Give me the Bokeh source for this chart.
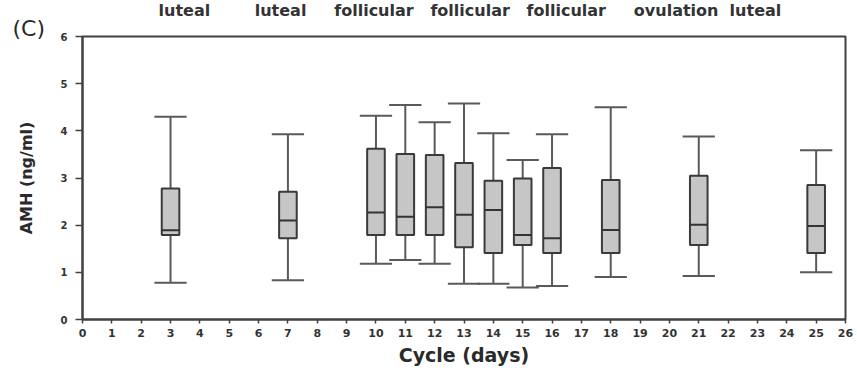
from bokeh.plotting import figure
from bokeh.models import Range1d, Title, ColumnDataSource, FixedTicker
from bokeh.embed import file_html
from bokeh.resources import INLINE

# ---- data ----
days = [3, 7, 10, 11, 12, 13, 14, 15, 16, 18, 21, 25]
whisk_hi = [4.30, 3.93, 4.32, 4.55, 4.18, 4.58, 3.95, 3.38, 3.93, 4.50, 3.88, 3.59]
q3 = [2.78, 2.71, 3.62, 3.51, 3.49, 3.32, 2.94, 2.99, 3.21, 2.96, 3.05, 2.85]
median = [1.89, 2.10, 2.27, 2.18, 2.38, 2.22, 2.32, 1.79, 1.72, 1.90, 2.01, 1.98]
q1 = [1.79, 1.72, 1.79, 1.79, 1.79, 1.53, 1.41, 1.58, 1.41, 1.41, 1.58, 1.41]
whisk_lo = [0.78, 0.83, 1.18, 1.26, 1.18, 0.76, 0.76, 0.68, 0.71, 0.90, 0.92, 1.00]

x_ticks = list(range(0, 27))
y_ticks = list(range(0, 7))

phase_words = ["luteal", "luteal", "follicular", "follicular", "follicular", "ovulation", "luteal"]
phase_gaps = [0, 8, 5, 3, 3, 5, 2]   # non-breaking spaces before each word

panel_label = "(C)"
x_title = "Cycle (days)"
y_title = "AMH (ng/ml)"

BOX_W = 0.6
CAP_W = 1.1
W, H = 857, 368

src = ColumnDataSource(dict(
    x=days, hi=whisk_hi, q3=q3, med=median, q1=q1, lo=whisk_lo,
    bl=[d - BOX_W / 2 for d in days], br=[d + BOX_W / 2 for d in days],
    cl=[d - CAP_W / 2 for d in days], cr=[d + CAP_W / 2 for d in days],
))

p = figure(width=W, height=H, output_backend="svg", toolbar_location=None,
           x_range=Range1d(0, 26), y_range=Range1d(0, 6),
           min_border_left=82, min_border_right=12, min_border_top=36, min_border_bottom=49)
p.background_fill_color = "white"
p.border_fill_color = "white"
p.outline_line_color = "#404040"
p.outline_line_width = 2
p.xgrid.visible = False
p.ygrid.visible = False

# whiskers
p.segment(x0="x", y0="q3", x1="x", y1="hi", source=src, line_color="#5a5a5a", line_width=2)
p.segment(x0="x", y0="lo", x1="x", y1="q1", source=src, line_color="#5a5a5a", line_width=2)
# caps
p.segment(x0="cl", y0="hi", x1="cr", y1="hi", source=src, line_color="#5a5a5a", line_width=2)
p.segment(x0="cl", y0="lo", x1="cr", y1="lo", source=src, line_color="#5a5a5a", line_width=2)
# boxes
p.vbar(x="x", width=BOX_W, bottom="q1", top="q3", source=src,
       fill_color="#c6c6c6", line_color="#3a3a3a", line_width=2)
# medians
p.segment(x0="bl", y0="med", x1="br", y1="med", source=src, line_color="#333333", line_width=2)

# axes
for ax in (p.xaxis[0], p.yaxis[0]):
    ax.axis_line_color = "#404040"
    ax.axis_line_width = 2
    ax.major_tick_line_color = "#404040"
    ax.major_tick_line_width = 1.5
    ax.minor_tick_line_color = None
    ax.major_label_text_font = "DejaVu Sans"
    ax.major_label_text_font_style = "bold"
    ax.major_label_text_color = "#333333"
    ax.axis_label_text_font = "DejaVu Sans"
    ax.axis_label_text_font_style = "bold"
    ax.axis_label_text_color = "#2a2a2a"

p.xaxis.ticker = FixedTicker(ticks=x_ticks)
p.yaxis.ticker = FixedTicker(ticks=y_ticks)
p.xaxis.major_tick_out = 4
p.xaxis.major_tick_in = 0
p.xaxis.major_label_standoff = 5
p.xaxis.major_label_text_font_size = "11px"
p.xaxis.axis_label = x_title
p.xaxis.axis_label_text_font_size = "19px"
p.xaxis.axis_label_standoff = 4
p.yaxis.major_tick_out = 7
p.yaxis.major_tick_in = 0
p.yaxis.major_label_standoff = 8
p.yaxis.major_label_text_font_size = "10px"
p.yaxis.axis_label = y_title
p.yaxis.axis_label_text_font_size = "16px"
p.yaxis.axis_label_standoff = 22

# panel letter (inner) and phase words (outer) as titles above the frame
phase_text = "".join("\u00a0" * g + w for g, w in zip(phase_gaps, phase_words))
p.add_layout(Title(text=panel_label, align="left", offset=-70, standoff=-8,
                   text_font="DejaVu Sans", text_font_style="normal", text_font_size="22px",
                   text_color="#2a2a2a"), "above")
p.add_layout(Title(text=phase_text, align="left", offset=76, standoff=-4,
                   text_font="DejaVu Sans", text_font_style="bold", text_font_size="16px",
                   text_color="#333333"), "above")

open("out.html", "w").write(file_html(p, INLINE))
